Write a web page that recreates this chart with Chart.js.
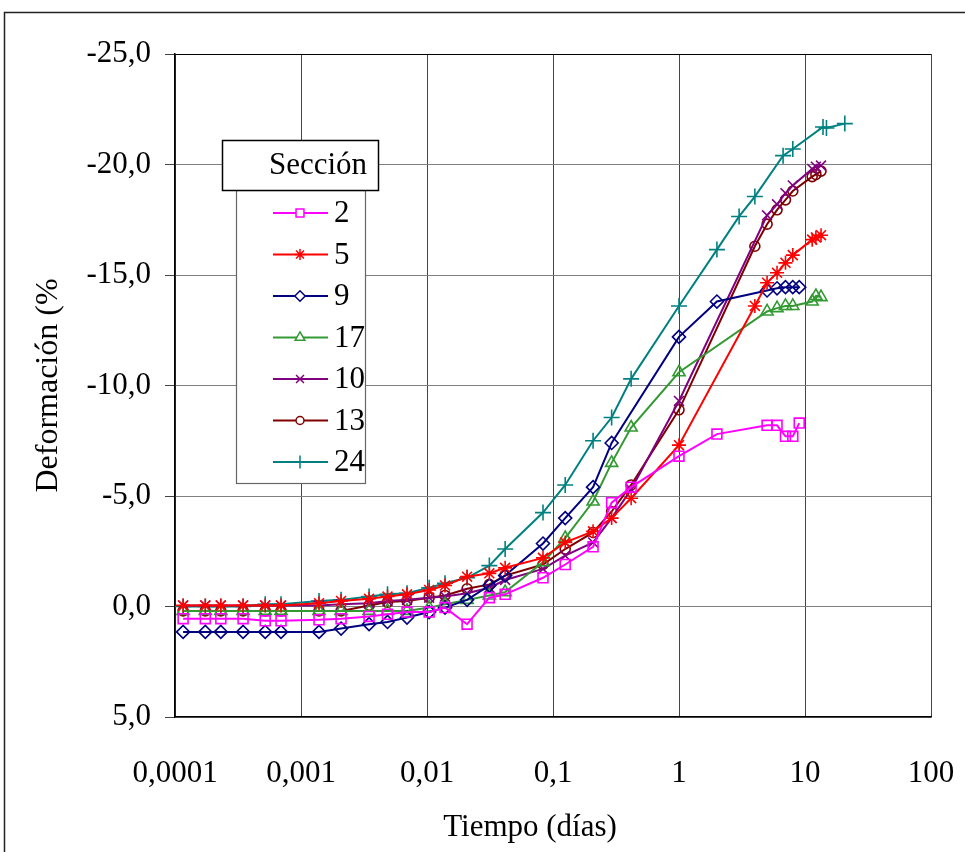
<!DOCTYPE html>
<html>
<head>
<meta charset="utf-8">
<script src="https://cdn.jsdelivr.net/npm/chart.js@4/dist/chart.umd.min.js"></script>
<style>
  html, body { margin: 0; padding: 0; background: #fff; }
</style>
</head>
<body>
<canvas id="chart" width="965" height="852"></canvas>
<script>
// time (days), common early readings
var tEarly = [0.000116, 0.000174, 0.000231, 0.000347, 0.00052, 0.000694, 0.00139, 0.00208, 0.00347, 0.00486,
  0.00694, 0.0104, 0.0139, 0.0208, 0.03125, 0.0417, 0.0833, 0.125, 0.208, 0.292, 0.417, 1];

var sec2T = tEarly.concat([2, 5, 6, 7, 8, 9]);
var sec2V = [0.55, 0.55, 0.55, 0.55, 0.65, 0.65, 0.6, 0.55, 0.45, 0.35, 0.25, 0.25, 0.05, 0.8, -0.4, -0.55,
  -1.3, -1.9, -2.7, -4.7, -5.4, -6.8, -7.8, -8.2, -8.2, -7.7, -7.7, -8.3];

var sec5T = tEarly.concat([4, 5, 6, 7, 8, 11.4, 12.2, 13.4]);
var sec5V = [-0.05, -0.05, -0.05, -0.05, -0.05, -0.05, -0.15, -0.25, -0.35, -0.45, -0.55, -0.75, -0.95, -1.35,
  -1.5, -1.75, -2.2, -2.9, -3.4, -4.0, -4.9, -7.3, -13.6, -14.65, -15.1, -15.55, -15.9, -16.6, -16.7, -16.8];

var sec9T = tEarly.slice(0, 20).concat([1, 2, 5, 6, 7, 8, 9]);
var sec9V = [1.15, 1.15, 1.15, 1.15, 1.15, 1.15, 1.15, 1.0, 0.8, 0.7, 0.5, 0.25, 0.05, -0.3, -0.95, -1.4,
  -2.85, -4.0, -5.4, -7.4, -12.2, -13.8, -14.3, -14.4, -14.45, -14.45, -14.45];

var sec17T = tEarly.concat([5, 6, 7, 8, 11.4, 12.2, 13.4]);
var sec17V = [0.2, 0.2, 0.2, 0.2, 0.2, 0.2, 0.2, 0.2, 0.2, 0.2, 0.2, 0.05, -0.1, -0.3, -0.5, -0.65,
  -2.0, -3.1, -4.75, -6.5, -8.1, -10.6, -13.35, -13.5, -13.6, -13.6, -13.8, -14.05, -14.0];

var sec10T = tEarly.concat([5, 6, 7, 8, 11.4, 12.2, 13.4]);
var sec10V = [-0.05, -0.05, -0.05, -0.05, -0.05, -0.05, -0.05, -0.1, -0.15, -0.25, -0.3, -0.4, -0.45, -0.6,
  -0.85, -1.2, -1.7, -2.3, -2.9, -4.0, -5.3, -9.3, -17.7, -18.2, -18.7, -19.05, -19.8, -19.9, -19.95];

var sec13T = tEarly.concat([4, 5, 6, 7, 8, 11.4, 12.2, 13.4]);
var sec13V = [0.2, 0.2, 0.2, 0.2, 0.2, 0.2, 0.2, 0.2, -0.05, -0.2, -0.25, -0.4, -0.5, -0.8, -1.0, -1.4,
  -1.9, -2.6, -3.35, -4.3, -5.5, -8.9, -16.3, -17.3, -17.95, -18.4, -18.8, -19.45, -19.55, -19.7];

var sec24T = tEarly.concat([2, 3, 4, 6.7, 8, 13.9, 14.8, 20.7]);
var sec24V = [0.0, 0.0, 0.0, 0.0, -0.1, -0.1, -0.25, -0.3, -0.45, -0.55, -0.6, -0.85, -1.05, -1.3, -1.85, -2.6,
  -4.25, -5.5, -7.5, -8.55, -10.3, -13.6, -16.15, -17.65, -18.55, -20.4, -20.7, -21.7, -21.65, -21.85];

var xTicks = [0.0001, 0.001, 0.01, 0.1, 1, 10, 100];

var serif = "'Liberation Serif', 'Times New Roman', serif";

function pts(t, v) {
  return t.map(function (x, i) { return { x: x, y: v[i] }; });
}

function series(label, t, v, color, style, r) {
  return {
    label: label,
    data: pts(t, v),
    borderColor: color,
    backgroundColor: 'rgba(0,0,0,0)',
    pointBorderColor: color,
    pointBackgroundColor: 'rgba(0,0,0,0)',
    pointStyle: style,
    pointRadius: r,
    pointBorderWidth: 1.6,
    borderWidth: 2,
    showLine: true,
    tension: 0
  };
}

// frame round the figure, x title (centred on the figure, not the axis) and the boxed legend
var frameLegend = {
  id: 'frameLegend',
  afterDraw: function (chart) {
    var ctx = chart.ctx;
    ctx.save();
    ctx.strokeStyle = '#222';
    ctx.lineWidth = 1.5;
    ctx.beginPath();
    ctx.moveTo(4.5, 870);
    ctx.lineTo(4.5, 12.5);
    ctx.lineTo(980, 12.5);
    ctx.stroke();

    ctx.fillStyle = '#000';
    ctx.font = '31px ' + serif;
    ctx.textAlign = 'center';
    ctx.textBaseline = 'middle';
    ctx.fillText('Tiempo (días)', 530, 828);

    ctx.fillStyle = '#fff';
    ctx.fillRect(236, 190, 129, 293);
    ctx.strokeStyle = '#666';
    ctx.lineWidth = 1.2;
    ctx.strokeRect(236.5, 190.5, 129, 293);

    ctx.fillStyle = '#fff';
    ctx.fillRect(222, 140, 156, 50);
    ctx.strokeStyle = '#000';
    ctx.lineWidth = 1.5;
    ctx.strokeRect(222.5, 140.5, 156, 50);

    ctx.fillStyle = '#000';
    ctx.fillText('Sección', 318, 166);

    chart.data.datasets.forEach(function (ds, i) {
      var y = 213 + i * 41.5;
      ctx.strokeStyle = ds.borderColor;
      ctx.lineWidth = 2;
      ctx.beginPath();
      ctx.moveTo(273, y);
      ctx.lineTo(328, y);
      ctx.stroke();
      ctx.fillStyle = '#fff';
      ctx.lineWidth = 1.5;
      Chart.helpers.drawPoint(ctx, { pointStyle: ds.pointStyle, radius: ds.pointRadius * 0.8, rotation: 0, borderWidth: 1.5 }, 300, y);
      ctx.fillStyle = '#000';
      ctx.textAlign = 'left';
      ctx.fillText(ds.label, 334, y + 1);
    });
    ctx.restore();
  }
};

new Chart(document.getElementById('chart').getContext('2d'), {
  type: 'scatter',
  data: {
    datasets: [
      series('2', sec2T, sec2V, '#ff00ff', 'rect', 7),
      series('5', sec5T, sec5V, '#ff0000', 'star', 7),
      series('9', sec9T, sec9V, '#000080', 'rectRot', 6.5),
      series('17', sec17T, sec17V, '#339933', 'triangle', 7),
      series('10', sec10T, sec10V, '#800080', 'crossRot', 7),
      series('13', sec13T, sec13V, '#800000', 'circle', 5),
      series('24', sec24T, sec24V, '#008080', 'cross', 8)
    ]
  },
  options: {
    responsive: false,
    animation: false,
    layout: { padding: { left: 0, top: 54, right: 34, bottom: 0 } },
    plugins: {
      legend: { display: false },
      tooltip: { enabled: false }
    },
    scales: {
      x: {
        type: 'logarithmic',
        min: 0.0001,
        max: 100,
        afterBuildTicks: function (scale) {
          scale.ticks = xTicks.map(function (v) { return { value: v }; });
        },
        afterFit: function (scale) {
          scale.height = 135;
          scale.paddingLeft = 0;
          scale.paddingRight = 0;
        },
        ticks: {
          autoSkip: false,
          maxRotation: 0,
          padding: 38,
          color: '#000',
          font: { family: serif, size: 31 },
          callback: function (v) { return String(v).replace('.', ','); }
        },
        grid: { color: '#444', lineWidth: 1, drawTicks: false },
        border: { color: '#000', width: 1.5 }
      },
      y: {
        min: -25,
        max: 5,
        reverse: true,
        afterFit: function (scale) { scale.width = 175; },
        ticks: {
          stepSize: 5,
          padding: 14,
          color: '#000',
          font: { family: serif, size: 31 },
          callback: function (v) { return v.toFixed(1).replace('.', ','); }
        },
        grid: {
          color: function (c) { return c.tick && c.tick.value === -25 ? '#000' : '#808080'; },
          lineWidth: 1,
          tickLength: 10,
          tickColor: '#444'
        },
        border: { color: '#000', width: 1.5 },
        title: {
          display: true,
          text: 'Deformación (%',
          color: '#000',
          font: { family: serif, size: 32 },
          padding: { top: 29, bottom: 0 }
        }
      }
    }
  },
  plugins: [frameLegend]
});
</script>
</body>
</html>
